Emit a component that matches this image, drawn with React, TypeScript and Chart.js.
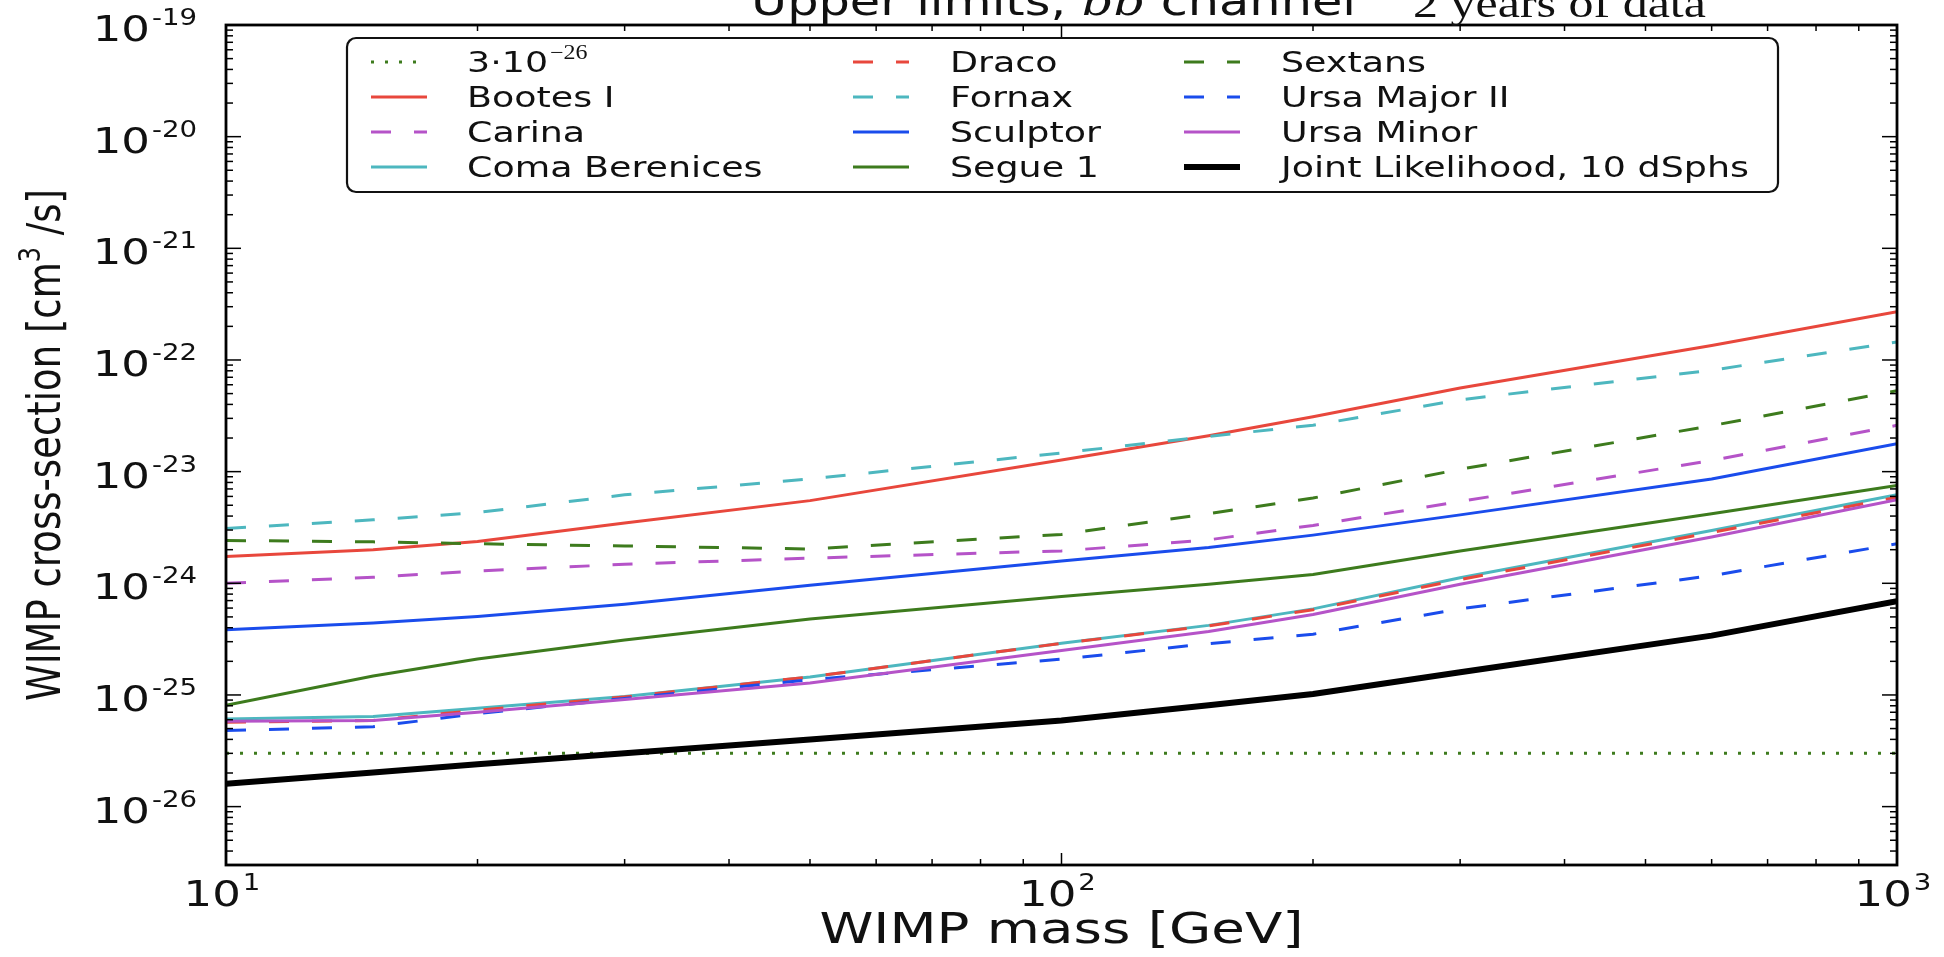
import React, { useEffect, useRef } from 'react';
import { Chart, registerables } from 'chart.js';

Chart.register(...registerables);

// ---------------- data ----------------
const massesGeV = [10, 15, 20, 30, 50, 100, 150, 200, 300, 600, 1000];
const thermalMasses = [10, 1000];
const thermalValues = [3e-26, 3e-26];

const bootesI = [1.74e-24, 2.0e-24, 2.37e-24, 3.46e-24, 5.5e-24, 1.27e-23, 2.1e-23, 3.1e-23, 5.6e-23, 1.35e-22, 2.7e-22];
const carina = [1.0e-24, 1.13e-24, 1.29e-24, 1.48e-24, 1.68e-24, 1.95e-24, 2.45e-24, 3.3e-24, 5.4e-24, 1.26e-23, 2.6e-23];
const comaBerenices = [6.1e-26, 6.4e-26, 7.6e-26, 9.7e-26, 1.45e-25, 2.9e-25, 4.2e-25, 5.9e-25, 1.12e-24, 2.97e-24, 6.2e-24];
const draco = [5.7e-26, 5.9e-26, 7.3e-26, 9.6e-26, 1.45e-25, 2.9e-25, 4.15e-25, 5.8e-25, 1.08e-24, 2.85e-24, 5.9e-24];
const fornax = [3.1e-24, 3.7e-24, 4.3e-24, 6.2e-24, 8.6e-24, 1.47e-23, 2.07e-23, 2.6e-23, 4.4e-23, 8.1e-23, 1.45e-22];
const sculptor = [3.84e-25, 4.4e-25, 5.05e-25, 6.5e-25, 9.6e-25, 1.58e-24, 2.09e-24, 2.7e-24, 4.1e-24, 8.6e-24, 1.78e-23];
const segue1 = [8.1e-26, 1.48e-25, 2.1e-25, 3.1e-25, 4.8e-25, 7.6e-25, 9.8e-25, 1.2e-24, 1.95e-24, 4.2e-24, 7.5e-24];
const sextans = [2.42e-24, 2.35e-24, 2.26e-24, 2.16e-24, 2.03e-24, 2.74e-24, 4.2e-24, 5.8e-24, 1.05e-23, 2.58e-23, 5.3e-23];
const ursaMajorII = [4.8e-26, 5.2e-26, 6.8e-26, 9.3e-26, 1.37e-25, 2.09e-25, 2.88e-25, 3.5e-25, 5.9e-25, 1.17e-24, 2.26e-24];
const ursaMinor = [5.8e-26, 5.9e-26, 7.0e-26, 9.1e-26, 1.28e-25, 2.5e-25, 3.7e-25, 5.25e-25, 9.8e-25, 2.6e-24, 5.6e-24];
const jointLikelihood = [1.6e-26, 2.02e-26, 2.4e-26, 3.0e-26, 4.0e-26, 5.9e-26, 8.1e-26, 1.02e-25, 1.6e-25, 3.4e-25, 6.9e-25];

const yTickExponents = [-26, -25, -24, -23, -22, -21, -20, -19];
const xTickExponents = [1, 2, 3];
const xMin = 10, xMax = 1000, yMin = 3e-27, yMax = 1e-19;

const titleSans = 'Upper limits, ';
const titleMath = 'bb\u0304';
const titleSans2 = ' channel';
const titleSerif = '2 years of data';
const xTitle = 'WIMP mass [GeV]';
const yTitleA = 'WIMP cross-section [cm';
const yTitleSup = '3';
const yTitleB = ' /s]';

// ---------------- styles ----------------
const RED = '#e8473c';
const CYAN = '#4db7bf';
const PURPLE = '#b553c8';
const BLUE = '#1a4cec';
const GREEN = '#3d7b1d';
const BLACK = '#000000';
const DASH = [20, 23];
const DOT = [3, 11];

type SeriesDef = { label: string; masses: number[]; values: number[]; color: string; dash: number[]; width: number };

const seriesDefs: SeriesDef[] = [
  { label: '3\u00b710', masses: thermalMasses, values: thermalValues, color: GREEN, dash: DOT, width: 3 },
  { label: 'Bootes I', masses: massesGeV, values: bootesI, color: RED, dash: [], width: 3 },
  { label: 'Carina', masses: massesGeV, values: carina, color: PURPLE, dash: DASH, width: 3 },
  { label: 'Coma Berenices', masses: massesGeV, values: comaBerenices, color: CYAN, dash: [], width: 3 },
  { label: 'Draco', masses: massesGeV, values: draco, color: RED, dash: DASH, width: 3 },
  { label: 'Fornax', masses: massesGeV, values: fornax, color: CYAN, dash: DASH, width: 3 },
  { label: 'Sculptor', masses: massesGeV, values: sculptor, color: BLUE, dash: [], width: 3 },
  { label: 'Segue 1', masses: massesGeV, values: segue1, color: GREEN, dash: [], width: 3 },
  { label: 'Sextans', masses: massesGeV, values: sextans, color: GREEN, dash: DASH, width: 3 },
  { label: 'Ursa Major II', masses: massesGeV, values: ursaMajorII, color: BLUE, dash: DASH, width: 3 },
  { label: 'Ursa Minor', masses: massesGeV, values: ursaMinor, color: PURPLE, dash: [], width: 3 },
  { label: 'Joint Likelihood, 10 dSphs', masses: massesGeV, values: jointLikelihood, color: BLACK, dash: [], width: 6 },
];

// ---------------- text helpers ----------------
const SANS = '"DejaVu Sans"';
const SERIF = '"Liberation Serif"';

function measure(ctx: CanvasRenderingContext2D, text: string, font: string, sx: number) {
  ctx.save();
  ctx.font = font;
  const w = ctx.measureText(text).width * sx;
  ctx.restore();
  return w;
}

function put(ctx: CanvasRenderingContext2D, text: string, x: number, y: number, font: string, sx: number, color = '#000') {
  ctx.save();
  ctx.font = font;
  ctx.fillStyle = color;
  ctx.textAlign = 'left';
  ctx.textBaseline = 'alphabetic';
  ctx.translate(x, y);
  ctx.scale(sx, 1);
  ctx.fillText(text, 0, 0);
  ctx.restore();
  return measure(ctx, text, font, sx);
}

const TICK_BASE = `36px ${SANS}`;
const TICK_BASE_SX = 1.25;
const TICK_SUP = `23px ${SANS}`;
const TICK_SUP_SX = 1.2;

function drawPow(ctx: CanvasRenderingContext2D, sup: string, x: number, y: number, align: 'right' | 'center') {
  const wb = measure(ctx, '10', TICK_BASE, TICK_BASE_SX);
  const ws = measure(ctx, sup, TICK_SUP, TICK_SUP_SX);
  const total = wb + 2 + ws;
  const x0 = align === 'right' ? x - total : x - total / 2;
  put(ctx, '10', x0, y, TICK_BASE, TICK_BASE_SX, '#111');
  put(ctx, sup, x0 + wb + 2, y - 16, TICK_SUP, TICK_SUP_SX, '#111');
}

const overlayPlugin = {
  id: 'overlay',
  afterDraw(chart: any) {
    const ctx: CanvasRenderingContext2D = chart.ctx;
    const xs = chart.scales.x;
    const ys = chart.scales.y;
    const { left, right, top, bottom } = chart.chartArea;
    ctx.save();

    // ticks (matplotlib style: inside, on all four sides)
    ctx.strokeStyle = '#000';
    ctx.lineWidth = 1.5;
    ctx.setLineDash([]);
    const seg = (x1: number, y1: number, x2: number, y2: number) => {
      ctx.beginPath();
      ctx.moveTo(x1, y1);
      ctx.lineTo(x2, y2);
      ctx.stroke();
    };
    for (let e = 1; e <= 3; e++) {
      for (let m = 1; m <= 9; m++) {
        const v = m * Math.pow(10, e);
        if (v > xMax * 1.0001) break;
        const px = xs.getPixelForValue(v);
        const len = m === 1 ? 12 : 6;
        seg(px, bottom, px, bottom - len);
        seg(px, top, px, top + len);
      }
    }
    for (let e = -27; e <= -19; e++) {
      for (let m = 1; m <= 9; m++) {
        const v = m * Math.pow(10, e);
        if (v < yMin * 0.9999 || v > yMax * 1.0001) continue;
        const py = ys.getPixelForValue(v);
        const len = m === 1 ? 15 : 7;
        seg(left, py, left + len, py);
        seg(right, py, right - len, py);
      }
    }

    // frame
    ctx.lineWidth = 2.8;
    ctx.strokeRect(left, top, right - left, bottom - top);

    // tick labels
    for (const e of yTickExponents) {
      const py = ys.getPixelForValue(Math.pow(10, e));
      drawPow(ctx, '-' + Math.abs(e), left - 29, py + 16, 'right');
    }
    for (const e of xTickExponents) {
      const px = xs.getPixelForValue(Math.pow(10, e));
      drawPow(ctx, String(e), px - 4, 906, 'center');
    }

    // x axis title
    const xtFont = `42px ${SANS}`;
    const xtW = measure(ctx, xTitle, xtFont, 1.3);
    put(ctx, xTitle, (left + right) / 2 - xtW / 2, 943, xtFont, 1.3, '#111');

    // y axis title (rotated, stretched across the text height)
    ctx.save();
    ctx.translate(46, (top + bottom) / 2);
    ctx.rotate(-Math.PI / 2);
    ctx.scale(1, 1.27);
    const ytFont = `37px ${SANS}`;
    const ytSup = `24px ${SANS}`;
    ctx.fillStyle = '#111';
    ctx.textBaseline = 'alphabetic';
    ctx.textAlign = 'left';
    ctx.font = ytFont;
    const wA = ctx.measureText(yTitleA).width;
    const wB = ctx.measureText(yTitleB).width;
    ctx.font = ytSup;
    const wS = ctx.measureText(yTitleSup).width;
    const totalY = wA + wS + wB;
    let cx = -totalY / 2;
    ctx.font = ytFont;
    ctx.fillText(yTitleA, cx, 11);
    cx += wA;
    ctx.font = ytSup;
    ctx.fillText(yTitleSup, cx, 11 - 16);
    cx += wS;
    ctx.font = ytFont;
    ctx.fillText(yTitleB, cx, 11);
    ctx.restore();

    // legend
    const lgX1 = 347, lgY1 = 38, lgX2 = 1778, lgY2 = 192;
    ctx.beginPath();
    ctx.roundRect(lgX1, lgY1, lgX2 - lgX1, lgY2 - lgY1, 9);
    ctx.fillStyle = '#ffffff';
    ctx.fill();
    ctx.lineWidth = 2.2;
    ctx.strokeStyle = '#111';
    ctx.stroke();
    const colLine = [371, 853, 1184];
    const colText = [467, 950, 1281];
    const rowY = [62, 97, 132, 167];
    const lgFont = `28px ${SANS}`;
    const LG_SX = 1.3;
    seriesDefs.forEach((s, i) => {
      const col = Math.floor(i / 4);
      const row = i % 4;
      const y = rowY[row];
      ctx.save();
      ctx.strokeStyle = s.color;
      ctx.lineWidth = s.width;
      ctx.setLineDash(s.dash);
      ctx.lineCap = 'butt';
      ctx.beginPath();
      ctx.moveTo(colLine[col], y);
      ctx.lineTo(colLine[col] + 56, y);
      ctx.stroke();
      ctx.restore();
      const ty = y + 10;
      const w = put(ctx, s.label, colText[col], ty, lgFont, LG_SX, '#111');
      if (i === 0) {
        put(ctx, '\u221226', colText[col] + w + 2, ty - 13, `20px ${SERIF}`, 1.2, '#111');
      }
    });

    // title (its top is cut off by the edge of the picture)
    const tFont = `40px ${SANS}`;
    const tMath = `italic 40px "DejaVu Serif"`;
    const rawW = measure(ctx, titleSans, tFont, 1) + measure(ctx, titleMath, tMath, 1) + measure(ctx, titleSans2, tFont, 1);
    const tSx = 605 / rawW;
    let tx = 751;
    tx += put(ctx, titleSans, tx, 15, tFont, tSx, '#111');
    tx += put(ctx, titleMath, tx, 15, tMath, tSx, '#111');
    tx += put(ctx, titleSans2, tx, 15, tFont, tSx, '#111');
    put(ctx, titleSerif, tx + 57, 17, `40px ${SERIF}`, 1.25, '#111');

    ctx.restore();
  },
};

export default function App() {
  const canvasRef = useRef<HTMLCanvasElement | null>(null);

  useEffect(() => {
    const canvas = canvasRef.current;
    if (!canvas) return;
    const n = seriesDefs.length;
    const chart = new Chart(canvas, {
      type: 'line',
      data: {
        datasets: seriesDefs.map((s, i) => ({
          label: s.label,
          data: s.masses.map((m, k) => ({ x: m, y: s.values[k] })),
          borderColor: s.color,
          backgroundColor: s.color,
          borderWidth: s.width,
          borderDash: s.dash,
          borderCapStyle: 'butt',
          borderJoinStyle: 'round',
          pointRadius: 0,
          pointHoverRadius: 0,
          tension: 0,
          fill: false,
          order: n - i,
        })),
      },
      options: {
        animation: false,
        responsive: false,
        devicePixelRatio: 1,
        layout: { padding: { left: 226, right: 47, top: 25, bottom: 92 } },
        scales: {
          x: { type: 'logarithmic', min: xMin, max: xMax, display: false },
          y: { type: 'logarithmic', min: yMin, max: yMax, display: false },
        },
        plugins: {
          legend: { display: false },
          tooltip: { enabled: false },
          title: { display: false },
        },
        events: [],
      } as any,
      plugins: [overlayPlugin],
    });
    return () => chart.destroy();
  }, []);

  return (
    <div style={{ position: 'absolute', left: 0, top: 0, width: 1944, height: 957, background: '#fff' }}>
      <canvas ref={canvasRef} width={1944} height={957} style={{ width: 1944, height: 957, display: 'block' }} />
    </div>
  );
}
